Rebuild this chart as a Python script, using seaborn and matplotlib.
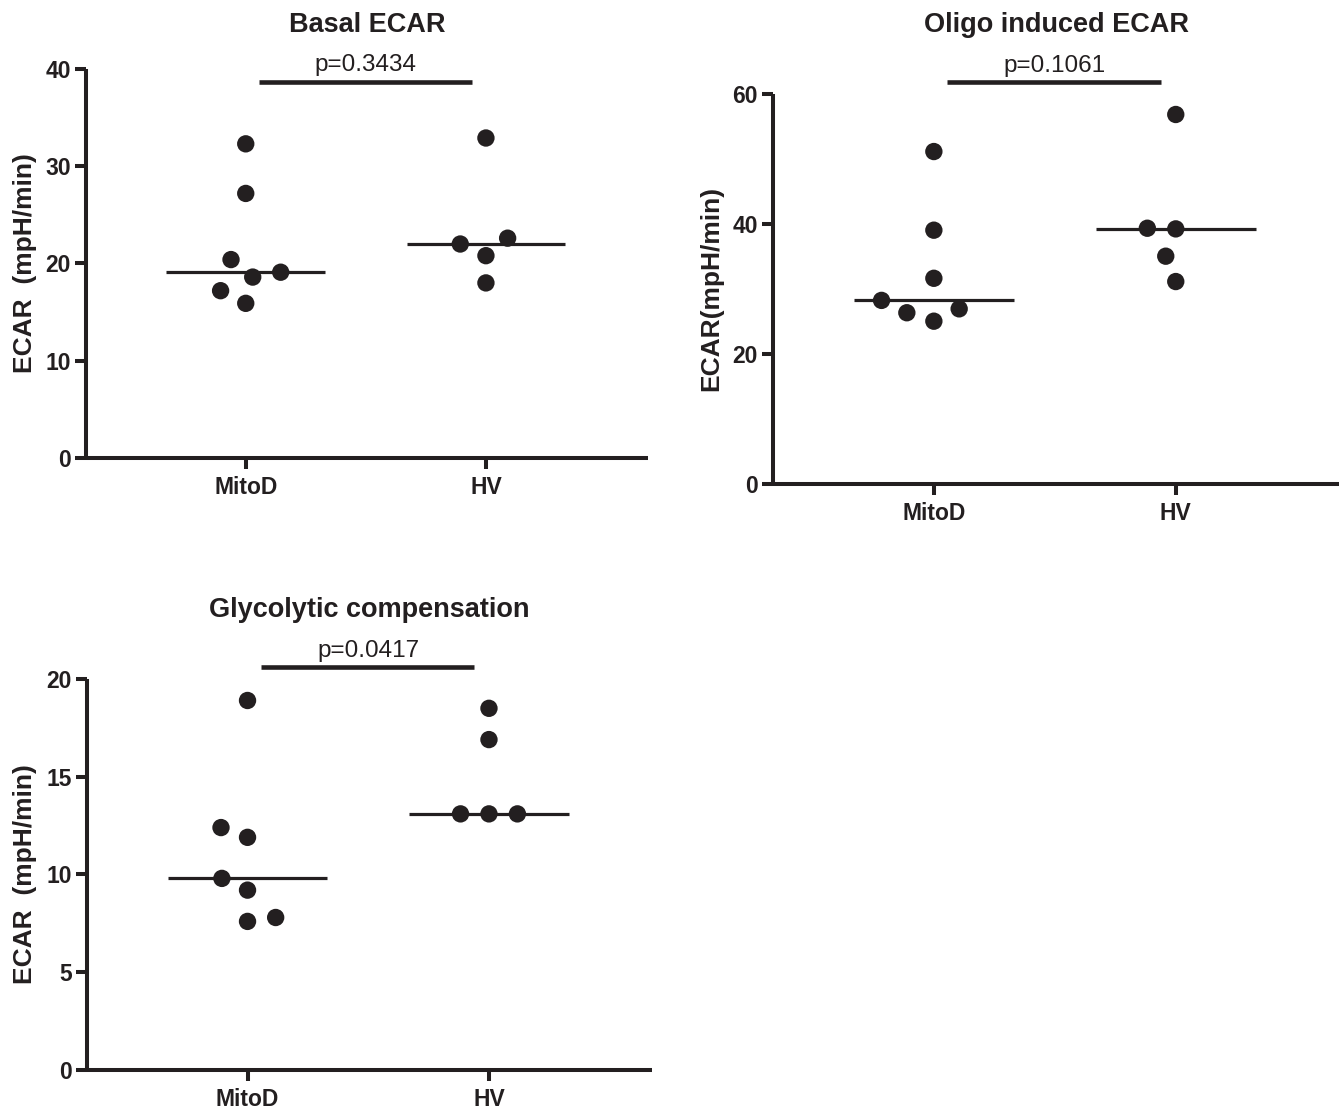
import numpy as np
import pandas as pd
import matplotlib
matplotlib.use("Agg")
import matplotlib.pyplot as plt
import seaborn as sns

# ---------------- data ----------------
groups = ["MitoD", "HV"]

basal_mitod = [32.3, 27.2, 20.4, 19.1, 18.6, 17.2, 15.9]
basal_hv = [32.9, 22.6, 22.0, 20.8, 18.0]

oligo_mitod = [51.1, 39.0, 31.6, 28.2, 26.9, 26.3, 25.0]
oligo_hv = [56.8, 39.3, 39.2, 35.0, 31.1]

glyco_mitod = [18.9, 12.4, 11.9, 9.8, 9.2, 7.8, 7.6]
glyco_hv = [18.5, 16.9, 13.1, 13.1, 13.1]

titles = ["Basal ECAR", "Oligo induced ECAR", "Glycolytic compensation"]
ylabels = ["ECAR  (mpH/min)", "ECAR(mpH/min)", "ECAR  (mpH/min)"]
p_texts = ["p=0.3434", "p=0.1061", "p=0.0417"]
y_ticks = [[0, 10, 20, 30, 40], [0, 20, 40, 60], [0, 5, 10, 15, 20]]
bar_levels = [38.7, 61.8, 20.6]

# ---------------- style ----------------
sns.set_style("ticks")
plt.rcParams["font.family"] = ["Liberation Sans", "DejaVu Sans"]
INK = "#231f20"

fig = plt.figure(figsize=(13.42, 11.14), dpi=100)
positions = [
    [0.0641, 0.5889, 0.4188, 0.3492],
    [0.5760, 0.5658, 0.4218, 0.3501],
    [0.0648, 0.0395, 0.4210, 0.3510],
]

datasets = [(basal_mitod, basal_hv), (oligo_mitod, oligo_hv), (glyco_mitod, glyco_hv)]

for k, (mitod, hv) in enumerate(datasets):
    ax = fig.add_axes(positions[k])
    df = pd.DataFrame({
        "group": [groups[0]] * len(mitod) + [groups[1]] * len(hv),
        "value": list(mitod) + list(hv),
    })
    sns.swarmplot(data=df, x="group", y="value", order=groups, color=INK,
                  size=12.5, linewidth=7, edgecolor="none", ax=ax, zorder=3)

    # medians
    for i, g in enumerate(groups):
        med = np.median(df.loc[df["group"] == g, "value"])
        ax.hlines(med, i - 0.33, i + 0.33, color=INK, lw=2.3, zorder=2)

    yt = y_ticks[k]
    ax.set_ylim(yt[0], yt[-1])
    ax.set_yticks(yt)
    ax.set_xlim(-0.665, 1.675)

    for s in ["top", "right"]:
        ax.spines[s].set_visible(False)
    for s in ["left", "bottom"]:
        ax.spines[s].set_linewidth(2.9)
        ax.spines[s].set_color(INK)
        ax.spines[s].set_capstyle("butt")
    ax.tick_params(axis="both", direction="out", length=8, width=2.9, color=INK,
                   labelsize=16.5, labelcolor=INK, pad=3)
    ax.tick_params(axis="x", pad=5)
    for lab in ax.get_xticklabels() + ax.get_yticklabels():
        lab.set_fontweight("bold")

    ax.set_xlabel("")
    ax.set_ylabel(ylabels[k], fontsize=19, fontweight="bold", color=INK)
    ax.yaxis.set_label_coords(-0.088, 0.5)

    # significance bar
    yb = bar_levels[k]
    ax.plot([0.055, 0.94], [yb, yb], color=INK, lw=3.3, clip_on=False,
            solid_capstyle="butt", zorder=4)
    ax.annotate(p_texts[k], xy=(0.5, yb), xytext=(0, 7.5), textcoords="offset points",
                ha="center", va="baseline", fontsize=17.5, color=INK,
                annotation_clip=False)
    ax.annotate(titles[k], xy=(0.5, yb), xycoords=ax.get_yaxis_transform(),
                xytext=(0, 36), textcoords="offset points",
                ha="center", va="baseline", fontsize=19.5, fontweight="bold",
                color=INK, annotation_clip=False)

fig.savefig("out.png", dpi=100)
